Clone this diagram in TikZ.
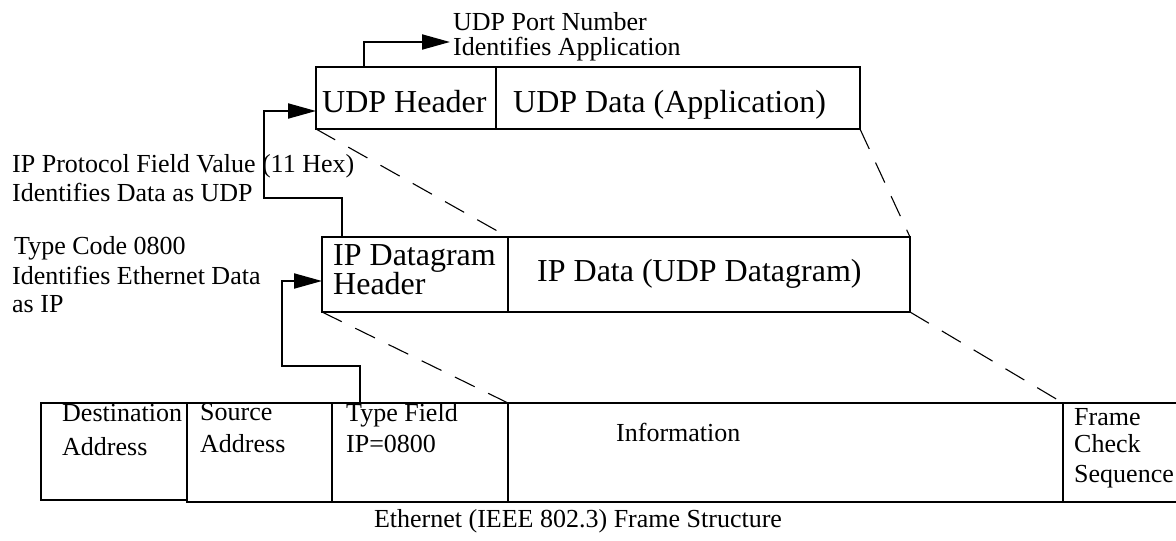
\documentclass[tikz,border=0pt]{standalone}
\usepackage{fontspec}
\setmainfont{Liberation Serif}
\usetikzlibrary{arrows.meta}
\begin{document}
\begin{tikzpicture}[x=1pt,y=-1pt,
  field/.style={draw, line width=2.4pt, inner sep=0pt, outer sep=0pt, anchor=north west},
  lbl/.style={font=\fontsize{26pt}{30pt}\selectfont, inner sep=0pt, anchor=base west},
  biglbl/.style={font=\fontsize{32pt}{36pt}\selectfont, inner sep=0pt, anchor=base west},
  arr/.style={line width=2pt, -{Triangle[length=28pt,width=15pt]}},
  proj/.style={line width=1.1pt, dash pattern=on 22pt off 15pt}]
\useasboundingbox (0,0) rectangle (1176,541);

% UDP datagram
\node[field, minimum width=180pt, minimum height=62pt] (udph) at (316,67) {};
\node[field, minimum width=364pt, minimum height=62pt] (udpd) at (496,67) {};
% IP datagram
\node[field, minimum width=186pt, minimum height=75pt] (iph) at (322,237) {};
\node[field, minimum width=402pt, minimum height=75pt] (ipd) at (508,237) {};
% Ethernet frame
\node[field, minimum width=146pt, minimum height=97pt] (dst) at (41,403) {};
\node[field, minimum width=145pt, minimum height=99pt] (src) at (187,403) {};
\node[field, minimum width=176pt, minimum height=99pt] (typ) at (332,403) {};
\node[field, minimum width=555pt, minimum height=99pt] (info) at (508,403) {};
\node[field, minimum width=125pt, minimum height=99pt] (fcs) at (1063,403) {};

% texts in boxes
\node[biglbl] (t1) at (322,112) {UDP Header};
\node[biglbl] (t2) at (513,112) {UDP Data (Application)};
\node[biglbl] (t3) at (333,265) {IP Datagram};
\node[biglbl] (t4) at (333,294) {Header};
\node[biglbl] (t5) at (537,281) {IP Data (UDP Datagram)};
\node[lbl] (e1) at (62,421) {Destination};
\node[lbl] (e2) at (62,455) {Address};
\node[lbl] (e3) at (200,420) {Source};
\node[lbl] (e4) at (200,452) {Address};
\node[lbl] (e5) at (346,421) {Type Field};
\node[lbl] (e6) at (346,452) {IP=0800};
\node[lbl] (e7) at (616,441) {Information};
\node[lbl] (e8) at (1074,425) {Frame};
\node[lbl] (e9) at (1074,452) {Check};
\node[lbl] (e10) at (1074,482) {Sequence};
\node[lbl, anchor=base] (cap) at (578,527) {Ethernet (IEEE 802.3) Frame Structure};

% side labels
\node[lbl] (p1) at (453,30) {UDP Port Number};
\node[lbl] (p2) at (453,55) {Identifies Application};
\node[lbl] (q1) at (12,172) {IP Protocol Field Value (11 Hex)};
\node[lbl] (q2) at (12,201) {Identifies Data as UDP};
\node[lbl] (r1) at (14,254) {Type Code 0800};
\node[lbl] (r2) at (12,284) {Identifies Ethernet Data};
\node[lbl] (r3) at (12,312) {as IP};

% projection lines
\draw[proj] (udph.south west) -- (ipd.north west);
\draw[proj] (udpd.south east) -- (ipd.north east);
\draw[proj] (iph.south west) -- (info.north west);
\draw[proj] (ipd.south east) -- (fcs.north west);

% arrows
\coordinate (a1s) at ([xshift=48pt]udph.north west);
\coordinate (a1t) at (450,42);
\draw[arr] (a1s) |- (a1t);

\coordinate (a2s) at ([xshift=20pt]iph.north west);
\coordinate (a2t) at ([yshift=18pt]udph.south west);
\draw[arr] (a2s) |- (264,198) |- (a2t);

\coordinate (a3s) at ([xshift=28pt]typ.north west);
\coordinate (a3t) at ([yshift=31pt]iph.south west);
\draw[arr] (a3s) |- (282,366) |- (a3t);
\end{tikzpicture}
\end{document}
